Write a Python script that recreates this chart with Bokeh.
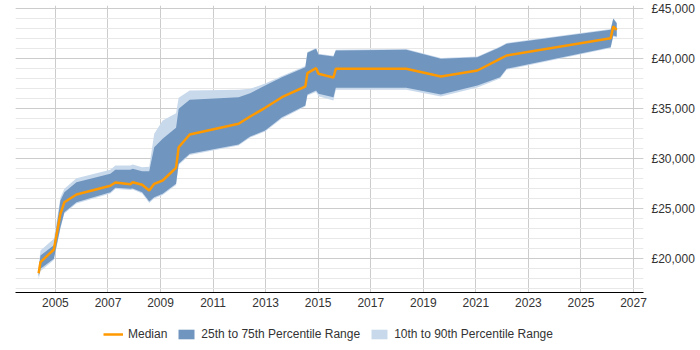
from bokeh.plotting import figure
from bokeh.layouts import column
from bokeh.models import (Legend, LegendItem, FixedTicker, SingleIntervalTicker,
                          Range1d, LinearAxis, Grid)
from bokeh.embed import file_html
from bokeh.resources import INLINE

# Salary percentiles over time
years = [2004.36, 2004.43, 2004.94, 2005.19, 2005.34, 2005.80, 2007.09, 2007.28,
         2007.85, 2007.94, 2008.30, 2008.57, 2008.76, 2009.08, 2009.59, 2009.69,
         2010.11, 2011.97, 2012.41, 2012.98, 2013.62, 2014.51, 2014.59, 2014.92,
         2015.01, 2015.58, 2015.67, 2018.35, 2019.67, 2021.06, 2021.92, 2022.17,
         2026.13, 2026.23, 2026.36]

median = [18530, 19630, 20900, 24470, 25630, 26400, 27270, 27600,
          27430, 27630, 27370, 26800, 27470, 27800, 29070, 31130,
          32400, 33470, 34200, 35070, 36130, 37200, 38530, 39030,
          38470, 38100, 38970, 38970, 38200, 38800, 39970, 40300,
          42030, 43200, 42870]

p25 = [18200, 18970, 19970, 23130, 24630, 25630, 26630, 27070,
       26970, 27000, 26630, 25700, 26130, 26470, 27470, 29470,
       30470, 31400, 32200, 32800, 34130, 35300, 36400, 36800,
       36470, 36130, 37070, 37070, 36400, 37300, 38130, 38970,
       41130, 42300, 42200]

p75 = [18900, 20300, 21330, 25800, 26630, 27630, 28470, 28870,
       28870, 28970, 28730, 28730, 31130, 31970, 33070, 34970,
       35870, 36130, 36530, 37300, 38130, 39130, 40570, 40970,
       40400, 40200, 40800, 40870, 39970, 40130, 41130, 41470,
       42870, 43970, 43530]

p10 = [17900, 18730, 19850, 23000, 24500, 25500, 26500, 26950,
       26850, 26900, 26500, 25550, 26000, 26350, 27350, 29350,
       30350, 31300, 32100, 32700, 34000, 35200, 36300, 36650,
       36230, 35800, 36870, 36870, 36200, 37100, 38000, 38870,
       41050, 42200, 42100]

p90 = [19100, 20800, 21970, 26100, 26970, 28030, 28870, 29300,
       29300, 29400, 29130, 29170, 32470, 33800, 34530, 36070,
       36800, 36870, 36970, 37500, 38250, 39250, 40650, 41050,
       40480, 40280, 40880, 40950, 40050, 40200, 41200, 41550,
       42950, 44050, 43600]

x_ticks = [2005, 2007, 2009, 2011, 2013, 2015, 2017, 2019, 2021, 2023, 2025, 2027]
y_ticks = [20000, 25000, 30000, 35000, 40000, 45000]
y_tick_labels = ["£20,000", "£25,000", "£30,000", "£35,000", "£40,000", "£45,000"]
series_labels = ["Median", "25th to 75th Percentile Range", "10th to 90th Percentile Range"]

FONT = "Liberation Sans"
TEXT = "#333333"
MEDIAN_COLOR = "#ff9900"
IQR_COLOR = "#7095be"
DECILE_COLOR = "#c9d9ec"

p = figure(width=700, height=312, frame_width=628, frame_height=287,
           output_backend="svg", toolbar_location=None,
           x_range=Range1d(2003.48, 2027.38), y_range=Range1d(16600, 45300),
           y_axis_location=None, min_border_left=15, min_border_right=57,
           min_border_top=5, min_border_bottom=20, outline_line_color=None)

p.varea(x=years, y1=p10, y2=p90, fill_color=DECILE_COLOR, fill_alpha=1.0)
p.varea(x=years, y1=p25, y2=p75, fill_color=IQR_COLOR, fill_alpha=1.0)
p.line(x=years, y=median, line_color=MEDIAN_COLOR, line_width=2.5)

# right-hand value axis
yticker = SingleIntervalTicker(interval=5000, num_minor_ticks=5)
yaxis = LinearAxis(ticker=yticker,
                   major_label_overrides={t: l for t, l in zip(y_ticks, y_tick_labels)},
                   axis_line_color=None, major_tick_line_color=None,
                   minor_tick_line_color=None, major_tick_out=0, minor_tick_out=0,
                   major_label_standoff=8,
                   major_label_text_font=FONT, major_label_text_font_size="12px",
                   major_label_text_color=TEXT)
p.add_layout(yaxis, "right")

xaxis = p.xaxis[0]
xaxis.ticker = FixedTicker(ticks=x_ticks)
xaxis.axis_line_color = "black"
xaxis.axis_line_width = 1.2
xaxis.major_tick_line_color = None
xaxis.minor_tick_line_color = None
xaxis.major_tick_out = 0
xaxis.minor_tick_out = 0
xaxis.major_label_standoff = 5
xaxis.major_label_text_font = FONT
xaxis.major_label_text_font_size = "12px"
xaxis.major_label_text_color = TEXT

p.xgrid.ticker = FixedTicker(ticks=x_ticks)
p.xgrid.grid_line_color = "#cccccc"
p.ygrid.grid_line_color = None
hgrid = Grid(dimension=1, ticker=yticker, grid_line_color="#cccccc",
             minor_grid_line_color="#e8e8e8", level="underlay")
p.add_layout(hgrid)

# legend strip under the chart; its swatch renderers sit outside the visible range
key = figure(width=700, height=38, output_backend="svg", toolbar_location=None,
             x_range=Range1d(0, 1), y_range=Range1d(0, 1),
             x_axis_location=None, y_axis_location=None,
             min_border=0, outline_line_color=None)
key.grid.visible = False
k_med = key.line(x=[2, 3], y=[2, 2], line_color=MEDIAN_COLOR, line_width=2.5)
k_iqr = key.varea(x=[2, 3], y1=[2, 2], y2=[3, 3], fill_color=IQR_COLOR)
k_dec = key.varea(x=[2, 3], y1=[2, 2], y2=[3, 3], fill_color=DECILE_COLOR)

legend = Legend(items=[LegendItem(label=series_labels[0], renderers=[k_med]),
                       LegendItem(label=series_labels[1], renderers=[k_iqr]),
                       LegendItem(label=series_labels[2], renderers=[k_dec])],
                orientation="horizontal", location=(88, 6),
                label_text_font=FONT, label_text_font_size="12px",
                label_text_color=TEXT, glyph_width=20, glyph_height=12,
                label_height=20, spacing=9, label_standoff=5, padding=0, margin=0,
                border_line_color=None, background_fill_alpha=0)
key.add_layout(legend, "center")

open("out.html", "w").write(file_html(column(p, key, spacing=0), INLINE))
